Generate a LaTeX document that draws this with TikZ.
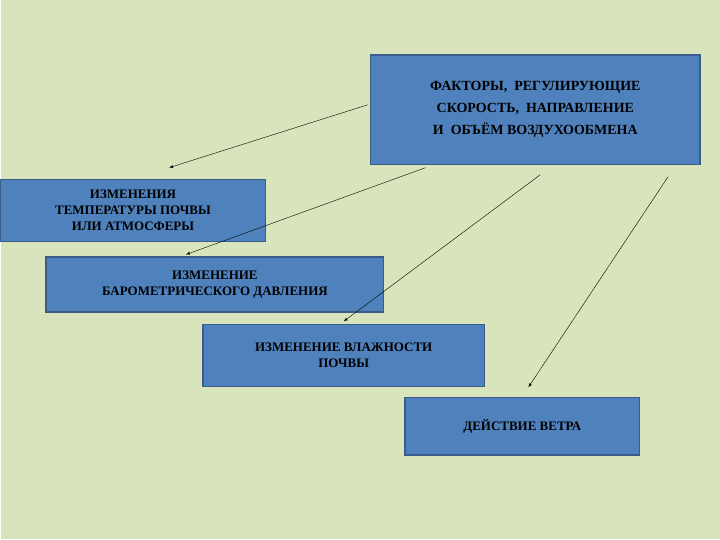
\documentclass[tikz,border=0pt]{standalone}
\usepackage{fontspec}
\setmainfont{Liberation Serif}
\definecolor{bg}{HTML}{D8E4BC}
\definecolor{bx}{HTML}{4F81BD}
\definecolor{bd}{HTML}{385D8A}
\begin{document}
\begin{tikzpicture}[x=1pt,y=-1pt,
 box/.style={draw=bd,line width=1.5pt,fill=bx,inner sep=0pt,align=center,font=\bfseries\fontsize{13}{16}\selectfont},
 arr/.style={-latex,thin}]
\fill[bg] (0,0) rectangle (720,540);
\node[box,minimum width=330,minimum height=110,font=\bfseries\fontsize{14}{22}\selectfont] (top) at (535,110) {ФАКТОРЫ,\ \ РЕГУЛИРУЮЩИЕ\\СКОРОСТЬ,\ \ НАПРАВЛЕНИЕ\\И\ \ ОБЪЁМ ВОЗДУХООБМЕНА};
\node[box,minimum width=265,minimum height=62] (b1) at (132,211) {ИЗМЕНЕНИЯ\\ТЕМПЕРАТУРЫ ПОЧВЫ\\ИЛИ АТМОСФЕРЫ};
\node[box,minimum width=338,minimum height=55] (b2) at (214,285) {ИЗМЕНЕНИЕ\\БАРОМЕТРИЧЕСКОГО ДАВЛЕНИЯ};
\node[box,minimum width=282,minimum height=62] (b3) at (343,356) {ИЗМЕНЕНИЕ ВЛАЖНОСТИ\\ПОЧВЫ};
\node[box,minimum width=235,minimum height=58] (b4) at (522,427) {ДЕЙСТВИЕ ВЕТРА};
\coordinate (s1) at (367,105); \coordinate (e1) at (168,168);
\coordinate (s2) at (425,168); \coordinate (e2) at (185,255);
\coordinate (s3) at (540,175); \coordinate (e3) at (343,322);
\coordinate (s4) at (668,177); \coordinate (e4) at (528,388);
\draw[arr] (s1)--(e1);
\draw[arr] (s2)--(e2);
\draw[arr] (s3)--(e3);
\draw[arr] (s4)--(e4);
\end{tikzpicture}
\end{document}
